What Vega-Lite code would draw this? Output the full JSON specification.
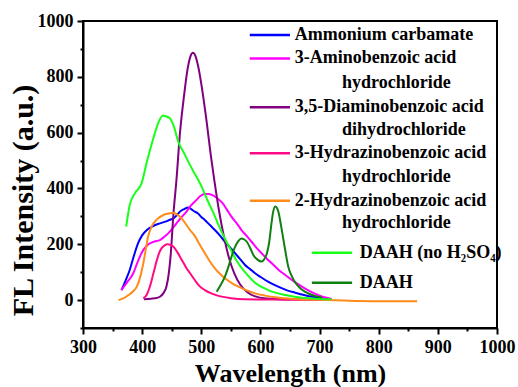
{
  "$schema": "https://vega.github.io/schema/vega-lite/v6.json",
  "width": 414,
  "height": 307,
  "autosize": {"type": "none"},
  "padding": {"left": 83, "top": 21, "right": 21, "bottom": 59},
  "background": "white",
  "config": {
    "view": {"stroke": "black", "strokeWidth": 2},
    "font": "Liberation Serif"
  },
  "resolve": {"axis": {"x": "independent", "y": "independent"}},
  "datasets": {
    "curves": [
      {"series": "Ammonium carbamate", "wavelength": 365, "intensity": 36},
      {"series": "Ammonium carbamate", "wavelength": 372, "intensity": 70},
      {"series": "Ammonium carbamate", "wavelength": 379, "intensity": 108},
      {"series": "Ammonium carbamate", "wavelength": 386, "intensity": 158},
      {"series": "Ammonium carbamate", "wavelength": 393, "intensity": 203},
      {"series": "Ammonium carbamate", "wavelength": 400, "intensity": 232},
      {"series": "Ammonium carbamate", "wavelength": 408, "intensity": 251},
      {"series": "Ammonium carbamate", "wavelength": 415, "intensity": 261},
      {"series": "Ammonium carbamate", "wavelength": 422, "intensity": 269},
      {"series": "Ammonium carbamate", "wavelength": 430, "intensity": 275},
      {"series": "Ammonium carbamate", "wavelength": 439, "intensity": 281},
      {"series": "Ammonium carbamate", "wavelength": 446, "intensity": 287},
      {"series": "Ammonium carbamate", "wavelength": 453, "intensity": 293},
      {"series": "Ammonium carbamate", "wavelength": 459, "intensity": 305},
      {"series": "Ammonium carbamate", "wavelength": 464, "intensity": 317},
      {"series": "Ammonium carbamate", "wavelength": 471, "intensity": 326},
      {"series": "Ammonium carbamate", "wavelength": 478, "intensity": 332},
      {"series": "Ammonium carbamate", "wavelength": 484, "intensity": 324},
      {"series": "Ammonium carbamate", "wavelength": 489, "intensity": 317},
      {"series": "Ammonium carbamate", "wavelength": 494, "intensity": 311},
      {"series": "Ammonium carbamate", "wavelength": 500, "intensity": 298},
      {"series": "Ammonium carbamate", "wavelength": 506, "intensity": 287},
      {"series": "Ammonium carbamate", "wavelength": 515, "intensity": 268},
      {"series": "Ammonium carbamate", "wavelength": 523, "intensity": 251},
      {"series": "Ammonium carbamate", "wavelength": 532, "intensity": 230},
      {"series": "Ammonium carbamate", "wavelength": 540, "intensity": 209},
      {"series": "Ammonium carbamate", "wavelength": 549, "intensity": 188},
      {"series": "Ammonium carbamate", "wavelength": 557, "intensity": 168},
      {"series": "Ammonium carbamate", "wavelength": 566, "intensity": 146},
      {"series": "Ammonium carbamate", "wavelength": 574, "intensity": 126},
      {"series": "Ammonium carbamate", "wavelength": 583, "intensity": 110},
      {"series": "Ammonium carbamate", "wavelength": 591, "intensity": 96},
      {"series": "Ammonium carbamate", "wavelength": 600, "intensity": 83},
      {"series": "Ammonium carbamate", "wavelength": 608, "intensity": 72},
      {"series": "Ammonium carbamate", "wavelength": 620, "intensity": 58},
      {"series": "Ammonium carbamate", "wavelength": 630, "intensity": 48},
      {"series": "Ammonium carbamate", "wavelength": 645, "intensity": 35},
      {"series": "Ammonium carbamate", "wavelength": 658, "intensity": 27},
      {"series": "Ammonium carbamate", "wavelength": 672, "intensity": 19},
      {"series": "Ammonium carbamate", "wavelength": 687, "intensity": 12},
      {"series": "Ammonium carbamate", "wavelength": 704, "intensity": 7},
      {"series": "Ammonium carbamate", "wavelength": 720, "intensity": 3},

      {"series": "3-Aminobenzoic acid hydrochloride", "wavelength": 365, "intensity": 36},
      {"series": "3-Aminobenzoic acid hydrochloride", "wavelength": 375, "intensity": 65},
      {"series": "3-Aminobenzoic acid hydrochloride", "wavelength": 385, "intensity": 96},
      {"series": "3-Aminobenzoic acid hydrochloride", "wavelength": 393, "intensity": 140},
      {"series": "3-Aminobenzoic acid hydrochloride", "wavelength": 402, "intensity": 180},
      {"series": "3-Aminobenzoic acid hydrochloride", "wavelength": 408, "intensity": 195},
      {"series": "3-Aminobenzoic acid hydrochloride", "wavelength": 413, "intensity": 203},
      {"series": "3-Aminobenzoic acid hydrochloride", "wavelength": 421, "intensity": 210},
      {"series": "3-Aminobenzoic acid hydrochloride", "wavelength": 430, "intensity": 215},
      {"series": "3-Aminobenzoic acid hydrochloride", "wavelength": 437, "intensity": 226},
      {"series": "3-Aminobenzoic acid hydrochloride", "wavelength": 444, "intensity": 239},
      {"series": "3-Aminobenzoic acid hydrochloride", "wavelength": 451, "intensity": 256},
      {"series": "3-Aminobenzoic acid hydrochloride", "wavelength": 458, "intensity": 275},
      {"series": "3-Aminobenzoic acid hydrochloride", "wavelength": 466, "intensity": 296},
      {"series": "3-Aminobenzoic acid hydrochloride", "wavelength": 475, "intensity": 317},
      {"series": "3-Aminobenzoic acid hydrochloride", "wavelength": 483, "intensity": 340},
      {"series": "3-Aminobenzoic acid hydrochloride", "wavelength": 492, "intensity": 359},
      {"series": "3-Aminobenzoic acid hydrochloride", "wavelength": 498, "intensity": 372},
      {"series": "3-Aminobenzoic acid hydrochloride", "wavelength": 506, "intensity": 380},
      {"series": "3-Aminobenzoic acid hydrochloride", "wavelength": 512, "intensity": 380},
      {"series": "3-Aminobenzoic acid hydrochloride", "wavelength": 518, "intensity": 377},
      {"series": "3-Aminobenzoic acid hydrochloride", "wavelength": 527, "intensity": 365},
      {"series": "3-Aminobenzoic acid hydrochloride", "wavelength": 536, "intensity": 347},
      {"series": "3-Aminobenzoic acid hydrochloride", "wavelength": 543, "intensity": 325},
      {"series": "3-Aminobenzoic acid hydrochloride", "wavelength": 551, "intensity": 299},
      {"series": "3-Aminobenzoic acid hydrochloride", "wavelength": 560, "intensity": 275},
      {"series": "3-Aminobenzoic acid hydrochloride", "wavelength": 568, "intensity": 251},
      {"series": "3-Aminobenzoic acid hydrochloride", "wavelength": 577, "intensity": 229},
      {"series": "3-Aminobenzoic acid hydrochloride", "wavelength": 585, "intensity": 209},
      {"series": "3-Aminobenzoic acid hydrochloride", "wavelength": 593, "intensity": 188},
      {"series": "3-Aminobenzoic acid hydrochloride", "wavelength": 602, "intensity": 168},
      {"series": "3-Aminobenzoic acid hydrochloride", "wavelength": 610, "intensity": 150},
      {"series": "3-Aminobenzoic acid hydrochloride", "wavelength": 619, "intensity": 132},
      {"series": "3-Aminobenzoic acid hydrochloride", "wavelength": 630, "intensity": 110},
      {"series": "3-Aminobenzoic acid hydrochloride", "wavelength": 642, "intensity": 90},
      {"series": "3-Aminobenzoic acid hydrochloride", "wavelength": 656, "intensity": 68},
      {"series": "3-Aminobenzoic acid hydrochloride", "wavelength": 670, "intensity": 48},
      {"series": "3-Aminobenzoic acid hydrochloride", "wavelength": 684, "intensity": 31},
      {"series": "3-Aminobenzoic acid hydrochloride", "wavelength": 698, "intensity": 18},
      {"series": "3-Aminobenzoic acid hydrochloride", "wavelength": 710, "intensity": 9},
      {"series": "3-Aminobenzoic acid hydrochloride", "wavelength": 720, "intensity": 4},

      {"series": "3,5-Diaminobenzoic acid dihydrochloride", "wavelength": 403, "intensity": 3},
      {"series": "3,5-Diaminobenzoic acid dihydrochloride", "wavelength": 415, "intensity": 5},
      {"series": "3,5-Diaminobenzoic acid dihydrochloride", "wavelength": 425, "intensity": 8},
      {"series": "3,5-Diaminobenzoic acid dihydrochloride", "wavelength": 430, "intensity": 12},
      {"series": "3,5-Diaminobenzoic acid dihydrochloride", "wavelength": 436, "intensity": 25},
      {"series": "3,5-Diaminobenzoic acid dihydrochloride", "wavelength": 441, "intensity": 48},
      {"series": "3,5-Diaminobenzoic acid dihydrochloride", "wavelength": 445, "intensity": 95},
      {"series": "3,5-Diaminobenzoic acid dihydrochloride", "wavelength": 448, "intensity": 155},
      {"series": "3,5-Diaminobenzoic acid dihydrochloride", "wavelength": 453, "intensity": 311},
      {"series": "3,5-Diaminobenzoic acid dihydrochloride", "wavelength": 458, "intensity": 430},
      {"series": "3,5-Diaminobenzoic acid dihydrochloride", "wavelength": 464, "intensity": 600},
      {"series": "3,5-Diaminobenzoic acid dihydrochloride", "wavelength": 471, "intensity": 735},
      {"series": "3,5-Diaminobenzoic acid dihydrochloride", "wavelength": 477, "intensity": 830},
      {"series": "3,5-Diaminobenzoic acid dihydrochloride", "wavelength": 482, "intensity": 875},
      {"series": "3,5-Diaminobenzoic acid dihydrochloride", "wavelength": 486, "intensity": 886},
      {"series": "3,5-Diaminobenzoic acid dihydrochloride", "wavelength": 490, "intensity": 875},
      {"series": "3,5-Diaminobenzoic acid dihydrochloride", "wavelength": 495, "intensity": 835},
      {"series": "3,5-Diaminobenzoic acid dihydrochloride", "wavelength": 500, "intensity": 775},
      {"series": "3,5-Diaminobenzoic acid dihydrochloride", "wavelength": 509, "intensity": 640},
      {"series": "3,5-Diaminobenzoic acid dihydrochloride", "wavelength": 516, "intensity": 520},
      {"series": "3,5-Diaminobenzoic acid dihydrochloride", "wavelength": 522, "intensity": 430},
      {"series": "3,5-Diaminobenzoic acid dihydrochloride", "wavelength": 530, "intensity": 320},
      {"series": "3,5-Diaminobenzoic acid dihydrochloride", "wavelength": 538, "intensity": 230},
      {"series": "3,5-Diaminobenzoic acid dihydrochloride", "wavelength": 547, "intensity": 150},
      {"series": "3,5-Diaminobenzoic acid dihydrochloride", "wavelength": 556, "intensity": 95},
      {"series": "3,5-Diaminobenzoic acid dihydrochloride", "wavelength": 566, "intensity": 55},
      {"series": "3,5-Diaminobenzoic acid dihydrochloride", "wavelength": 578, "intensity": 28},
      {"series": "3,5-Diaminobenzoic acid dihydrochloride", "wavelength": 590, "intensity": 14},
      {"series": "3,5-Diaminobenzoic acid dihydrochloride", "wavelength": 610, "intensity": 6},
      {"series": "3,5-Diaminobenzoic acid dihydrochloride", "wavelength": 650, "intensity": 3},
      {"series": "3,5-Diaminobenzoic acid dihydrochloride", "wavelength": 720, "intensity": 2},

      {"series": "3-Hydrazinobenzoic acid hydrochloride", "wavelength": 402, "intensity": 6},
      {"series": "3-Hydrazinobenzoic acid hydrochloride", "wavelength": 408, "intensity": 20},
      {"series": "3-Hydrazinobenzoic acid hydrochloride", "wavelength": 413, "intensity": 48},
      {"series": "3-Hydrazinobenzoic acid hydrochloride", "wavelength": 419, "intensity": 95},
      {"series": "3-Hydrazinobenzoic acid hydrochloride", "wavelength": 425, "intensity": 144},
      {"series": "3-Hydrazinobenzoic acid hydrochloride", "wavelength": 429, "intensity": 170},
      {"series": "3-Hydrazinobenzoic acid hydrochloride", "wavelength": 433, "intensity": 186},
      {"series": "3-Hydrazinobenzoic acid hydrochloride", "wavelength": 438, "intensity": 196},
      {"series": "3-Hydrazinobenzoic acid hydrochloride", "wavelength": 443, "intensity": 200},
      {"series": "3-Hydrazinobenzoic acid hydrochloride", "wavelength": 448, "intensity": 198},
      {"series": "3-Hydrazinobenzoic acid hydrochloride", "wavelength": 453, "intensity": 191},
      {"series": "3-Hydrazinobenzoic acid hydrochloride", "wavelength": 460, "intensity": 170},
      {"series": "3-Hydrazinobenzoic acid hydrochloride", "wavelength": 467, "intensity": 144},
      {"series": "3-Hydrazinobenzoic acid hydrochloride", "wavelength": 474, "intensity": 118},
      {"series": "3-Hydrazinobenzoic acid hydrochloride", "wavelength": 481, "intensity": 96},
      {"series": "3-Hydrazinobenzoic acid hydrochloride", "wavelength": 489, "intensity": 72},
      {"series": "3-Hydrazinobenzoic acid hydrochloride", "wavelength": 497, "intensity": 50},
      {"series": "3-Hydrazinobenzoic acid hydrochloride", "wavelength": 506, "intensity": 36},
      {"series": "3-Hydrazinobenzoic acid hydrochloride", "wavelength": 517, "intensity": 24},
      {"series": "3-Hydrazinobenzoic acid hydrochloride", "wavelength": 529, "intensity": 15},
      {"series": "3-Hydrazinobenzoic acid hydrochloride", "wavelength": 550, "intensity": 7},
      {"series": "3-Hydrazinobenzoic acid hydrochloride", "wavelength": 574, "intensity": 3},
      {"series": "3-Hydrazinobenzoic acid hydrochloride", "wavelength": 620, "intensity": 2},
      {"series": "3-Hydrazinobenzoic acid hydrochloride", "wavelength": 670, "intensity": 1},
      {"series": "3-Hydrazinobenzoic acid hydrochloride", "wavelength": 720, "intensity": 1},

      {"series": "2-Hydrazinobenzoic acid hydrochloride", "wavelength": 360, "intensity": 0},
      {"series": "2-Hydrazinobenzoic acid hydrochloride", "wavelength": 368, "intensity": 6},
      {"series": "2-Hydrazinobenzoic acid hydrochloride", "wavelength": 377, "intensity": 18},
      {"series": "2-Hydrazinobenzoic acid hydrochloride", "wavelength": 384, "intensity": 30},
      {"series": "2-Hydrazinobenzoic acid hydrochloride", "wavelength": 391, "intensity": 48},
      {"series": "2-Hydrazinobenzoic acid hydrochloride", "wavelength": 397, "intensity": 85},
      {"series": "2-Hydrazinobenzoic acid hydrochloride", "wavelength": 402, "intensity": 132},
      {"series": "2-Hydrazinobenzoic acid hydrochloride", "wavelength": 406, "intensity": 180},
      {"series": "2-Hydrazinobenzoic acid hydrochloride", "wavelength": 410, "intensity": 227},
      {"series": "2-Hydrazinobenzoic acid hydrochloride", "wavelength": 416, "intensity": 263},
      {"series": "2-Hydrazinobenzoic acid hydrochloride", "wavelength": 425, "intensity": 289},
      {"series": "2-Hydrazinobenzoic acid hydrochloride", "wavelength": 436, "intensity": 305},
      {"series": "2-Hydrazinobenzoic acid hydrochloride", "wavelength": 445, "intensity": 310},
      {"series": "2-Hydrazinobenzoic acid hydrochloride", "wavelength": 453, "intensity": 313},
      {"series": "2-Hydrazinobenzoic acid hydrochloride", "wavelength": 458, "intensity": 308},
      {"series": "2-Hydrazinobenzoic acid hydrochloride", "wavelength": 464, "intensity": 299},
      {"series": "2-Hydrazinobenzoic acid hydrochloride", "wavelength": 472, "intensity": 278},
      {"series": "2-Hydrazinobenzoic acid hydrochloride", "wavelength": 481, "intensity": 251},
      {"series": "2-Hydrazinobenzoic acid hydrochloride", "wavelength": 489, "intensity": 230},
      {"series": "2-Hydrazinobenzoic acid hydrochloride", "wavelength": 497, "intensity": 200},
      {"series": "2-Hydrazinobenzoic acid hydrochloride", "wavelength": 506, "intensity": 168},
      {"series": "2-Hydrazinobenzoic acid hydrochloride", "wavelength": 514, "intensity": 140},
      {"series": "2-Hydrazinobenzoic acid hydrochloride", "wavelength": 523, "intensity": 114},
      {"series": "2-Hydrazinobenzoic acid hydrochloride", "wavelength": 531, "intensity": 95},
      {"series": "2-Hydrazinobenzoic acid hydrochloride", "wavelength": 540, "intensity": 78},
      {"series": "2-Hydrazinobenzoic acid hydrochloride", "wavelength": 551, "intensity": 62},
      {"series": "2-Hydrazinobenzoic acid hydrochloride", "wavelength": 563, "intensity": 48},
      {"series": "2-Hydrazinobenzoic acid hydrochloride", "wavelength": 577, "intensity": 35},
      {"series": "2-Hydrazinobenzoic acid hydrochloride", "wavelength": 591, "intensity": 24},
      {"series": "2-Hydrazinobenzoic acid hydrochloride", "wavelength": 608, "intensity": 16},
      {"series": "2-Hydrazinobenzoic acid hydrochloride", "wavelength": 625, "intensity": 10},
      {"series": "2-Hydrazinobenzoic acid hydrochloride", "wavelength": 650, "intensity": 5},
      {"series": "2-Hydrazinobenzoic acid hydrochloride", "wavelength": 700, "intensity": 1},
      {"series": "2-Hydrazinobenzoic acid hydrochloride", "wavelength": 760, "intensity": -3},
      {"series": "2-Hydrazinobenzoic acid hydrochloride", "wavelength": 810, "intensity": -4},
      {"series": "2-Hydrazinobenzoic acid hydrochloride", "wavelength": 865, "intensity": -4},

      {"series": "DAAH (no H2SO4)", "wavelength": 373, "intensity": 263},
      {"series": "DAAH (no H2SO4)", "wavelength": 379, "intensity": 341},
      {"series": "DAAH (no H2SO4)", "wavelength": 388, "intensity": 383},
      {"series": "DAAH (no H2SO4)", "wavelength": 399, "intensity": 418},
      {"series": "DAAH (no H2SO4)", "wavelength": 408, "intensity": 496},
      {"series": "DAAH (no H2SO4)", "wavelength": 419, "intensity": 580},
      {"series": "DAAH (no H2SO4)", "wavelength": 427, "intensity": 633},
      {"series": "DAAH (no H2SO4)", "wavelength": 435, "intensity": 661},
      {"series": "DAAH (no H2SO4)", "wavelength": 441, "intensity": 658},
      {"series": "DAAH (no H2SO4)", "wavelength": 447, "intensity": 651},
      {"series": "DAAH (no H2SO4)", "wavelength": 454, "intensity": 620},
      {"series": "DAAH (no H2SO4)", "wavelength": 461, "intensity": 568},
      {"series": "DAAH (no H2SO4)", "wavelength": 470, "intensity": 530},
      {"series": "DAAH (no H2SO4)", "wavelength": 478, "intensity": 496},
      {"series": "DAAH (no H2SO4)", "wavelength": 487, "intensity": 460},
      {"series": "DAAH (no H2SO4)", "wavelength": 495, "intensity": 430},
      {"series": "DAAH (no H2SO4)", "wavelength": 503, "intensity": 395},
      {"series": "DAAH (no H2SO4)", "wavelength": 511, "intensity": 355},
      {"series": "DAAH (no H2SO4)", "wavelength": 520, "intensity": 315},
      {"series": "DAAH (no H2SO4)", "wavelength": 530, "intensity": 265},
      {"series": "DAAH (no H2SO4)", "wavelength": 540, "intensity": 220},
      {"series": "DAAH (no H2SO4)", "wavelength": 550, "intensity": 180},
      {"series": "DAAH (no H2SO4)", "wavelength": 560, "intensity": 140},
      {"series": "DAAH (no H2SO4)", "wavelength": 574, "intensity": 100},
      {"series": "DAAH (no H2SO4)", "wavelength": 591, "intensity": 62},
      {"series": "DAAH (no H2SO4)", "wavelength": 613, "intensity": 36},
      {"series": "DAAH (no H2SO4)", "wavelength": 642, "intensity": 18},
      {"series": "DAAH (no H2SO4)", "wavelength": 670, "intensity": 8},
      {"series": "DAAH (no H2SO4)", "wavelength": 700, "intensity": 4},
      {"series": "DAAH (no H2SO4)", "wavelength": 720, "intensity": 3},

      {"series": "DAAH", "wavelength": 526, "intensity": 30},
      {"series": "DAAH", "wavelength": 533, "intensity": 55},
      {"series": "DAAH", "wavelength": 540, "intensity": 84},
      {"series": "DAAH", "wavelength": 546, "intensity": 120},
      {"series": "DAAH", "wavelength": 551, "intensity": 155},
      {"series": "DAAH", "wavelength": 556, "intensity": 185},
      {"series": "DAAH", "wavelength": 560, "intensity": 203},
      {"series": "DAAH", "wavelength": 564, "intensity": 215},
      {"series": "DAAH", "wavelength": 568, "intensity": 221},
      {"series": "DAAH", "wavelength": 572, "intensity": 218},
      {"series": "DAAH", "wavelength": 577, "intensity": 209},
      {"series": "DAAH", "wavelength": 583, "intensity": 185},
      {"series": "DAAH", "wavelength": 588, "intensity": 162},
      {"series": "DAAH", "wavelength": 595, "intensity": 145},
      {"series": "DAAH", "wavelength": 602, "intensity": 138},
      {"series": "DAAH", "wavelength": 606, "intensity": 145},
      {"series": "DAAH", "wavelength": 611, "intensity": 168},
      {"series": "DAAH", "wavelength": 615, "intensity": 210},
      {"series": "DAAH", "wavelength": 618, "intensity": 263},
      {"series": "DAAH", "wavelength": 621, "intensity": 310},
      {"series": "DAAH", "wavelength": 625, "intensity": 335},
      {"series": "DAAH", "wavelength": 628, "intensity": 330},
      {"series": "DAAH", "wavelength": 631, "intensity": 311},
      {"series": "DAAH", "wavelength": 635, "intensity": 265},
      {"series": "DAAH", "wavelength": 639, "intensity": 215},
      {"series": "DAAH", "wavelength": 643, "intensity": 165},
      {"series": "DAAH", "wavelength": 647, "intensity": 120},
      {"series": "DAAH", "wavelength": 652, "intensity": 90},
      {"series": "DAAH", "wavelength": 658, "intensity": 66},
      {"series": "DAAH", "wavelength": 666, "intensity": 45},
      {"series": "DAAH", "wavelength": 675, "intensity": 30},
      {"series": "DAAH", "wavelength": 684, "intensity": 21},
      {"series": "DAAH", "wavelength": 692, "intensity": 15},
      {"series": "DAAH", "wavelength": 704, "intensity": 9}
    ],
    "legendLines": [
      {"series": "Ammonium carbamate", "x1": 582, "x2": 650, "y": 950},
      {"series": "3-Aminobenzoic acid hydrochloride", "x1": 582, "x2": 650, "y": 866},
      {"series": "3,5-Diaminobenzoic acid dihydrochloride", "x1": 582, "x2": 650, "y": 691},
      {"series": "3-Hydrazinobenzoic acid hydrochloride", "x1": 582, "x2": 650, "y": 526},
      {"series": "2-Hydrazinobenzoic acid hydrochloride", "x1": 582, "x2": 650, "y": 356},
      {"series": "DAAH (no H2SO4)", "x1": 687, "x2": 755, "y": 170},
      {"series": "DAAH", "x1": 687, "x2": 755, "y": 62}
    ],
    "legendText": [
      {"label": "Ammonium carbamate", "x": 658, "y": 950},
      {"label": "3-Aminobenzoic acid", "x": 658, "y": 866},
      {"label": "hydrochloride", "x": 738, "y": 778},
      {"label": "3,5-Diaminobenzoic acid", "x": 658, "y": 691},
      {"label": "dihydrochloride", "x": 738, "y": 609},
      {"label": "3-Hydrazinobenzoic acid", "x": 658, "y": 526},
      {"label": "hydrochloride", "x": 738, "y": 441},
      {"label": "2-Hydrazinobenzoic acid", "x": 658, "y": 356},
      {"label": "hydrochloride", "x": 738, "y": 276},
      {"label": "DAAH (no H₂SO₄)", "x": 768, "y": 170},
      {"label": "DAAH", "x": 768, "y": 62}
    ]
  },
  "layer": [
    {
      "data": {"name": "curves"},
      "mark": {"type": "line", "strokeWidth": 2, "interpolate": "monotone"},
      "encoding": {
        "x": {
          "field": "wavelength", "type": "quantitative",
          "scale": {"domain": [300, 1000], "nice": false, "zero": false},
          "axis": {
            "title": "Wavelength (nm)",
            "orient": "bottom",
            "values": [300, 400, 500, 600, 700, 800, 900, 1000],
            "format": "d",
            "grid": false,
            "domainColor": "black", "domainWidth": 2,
            "tickColor": "black", "tickWidth": 2, "tickSize": 6,
            "labelFont": "Liberation Serif", "labelFontWeight": "bold", "labelFontSize": 18, "labelColor": "black",
            "labelPadding": 4, "labelFlush": false, "labelOverlap": false,
            "titleFont": "Liberation Serif", "titleFontWeight": "bold", "titleFontSize": 26, "titleColor": "black",
            "titlePadding": 4
          }
        },
        "y": {
          "field": "intensity", "type": "quantitative",
          "scale": {"domain": [-100, 1000], "nice": false, "zero": false},
          "axis": {
            "title": "FL Intensity (a.u.)",
            "orient": "left",
            "values": [0, 200, 400, 600, 800, 1000],
            "format": "d",
            "grid": false,
            "domainColor": "black", "domainWidth": 2,
            "tickColor": "black", "tickWidth": 2, "tickSize": 6,
            "labelFont": "Liberation Serif", "labelFontWeight": "bold", "labelFontSize": 18, "labelColor": "black",
            "labelPadding": 4, "labelFlush": false, "labelOverlap": false,
            "titleFont": "Liberation Serif", "titleFontWeight": "bold", "titleFontSize": 30, "titleColor": "black",
            "titleX": -51, "titleY": 179, "titleAngle": -90, "titleAlign": "center", "titleBaseline": "alphabetic"
          }
        },
        "color": {
          "field": "series", "type": "nominal",
          "scale": {
            "domain": ["Ammonium carbamate", "3-Aminobenzoic acid hydrochloride", "3,5-Diaminobenzoic acid dihydrochloride", "3-Hydrazinobenzoic acid hydrochloride", "2-Hydrazinobenzoic acid hydrochloride", "DAAH (no H2SO4)", "DAAH"],
            "range": ["#0000ff", "#ff00ff", "#800080", "#ff0a84", "#ff8c1a", "#1aff1a", "#108010"]
          },
          "legend": null
        }
      }
    },
    {
      "data": {"name": "legendLines"},
      "mark": {"type": "rule", "strokeWidth": 2.5},
      "encoding": {
        "x": {
          "field": "x1", "type": "quantitative",
          "axis": {
            "orient": "bottom", "title": null, "labels": false, "domain": false, "grid": false,
            "values": [350, 450, 550, 650, 750, 850, 950],
            "tickColor": "black", "tickWidth": 2, "tickSize": 3
          }
        },
        "x2": {"field": "x2"},
        "y": {
          "field": "y", "type": "quantitative",
          "axis": {
            "orient": "left", "title": null, "labels": false, "domain": false, "grid": false,
            "values": [-100, 100, 300, 500, 700, 900],
            "tickColor": "black", "tickWidth": 2, "tickSize": 3
          }
        },
        "color": {"field": "series", "type": "nominal", "legend": null}
      }
    },
    {
      "data": {"name": "legendText"},
      "mark": {"type": "text", "align": "left", "baseline": "middle", "font": "Liberation Serif", "fontWeight": "bold", "fontSize": 18, "color": "black"},
      "encoding": {
        "x": {"field": "x", "type": "quantitative", "axis": null},
        "y": {"field": "y", "type": "quantitative", "axis": null},
        "text": {"field": "label"}
      }
    }
  ]
}
